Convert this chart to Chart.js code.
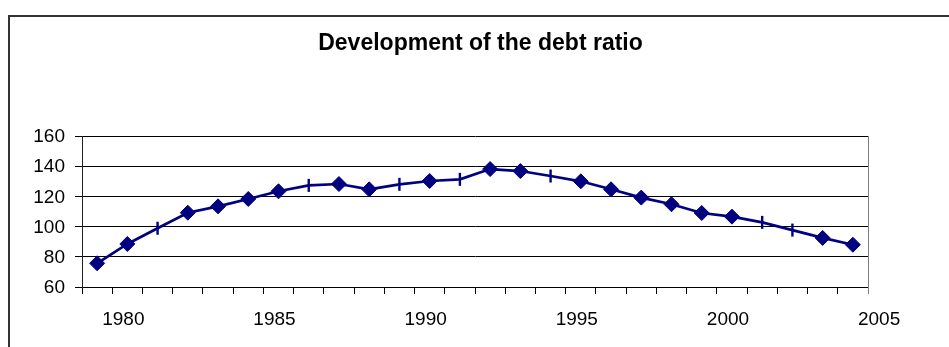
<!DOCTYPE html>
<html>
<head>
<meta charset="utf-8">
<script src="https://cdn.jsdelivr.net/npm/chart.js@4"></script>
<style>
  html, body { margin: 0; padding: 0; background: #fff; }
  #wrap { position: relative; width: 949px; height: 347px; overflow: hidden; }
  #frame { position: absolute; left: 8px; top: 15px; width: 1000px; height: 400px;
           border-left: 2px solid #333; border-top: 2px solid #333; }
  #chart { position: absolute; left: 0; top: 0; }
</style>
</head>
<body>
<div id="wrap">
  <div id="frame"></div>
  <canvas id="chart" width="949" height="347"></canvas>
</div>
<script>
// Debt ratio by year
const years = [1979, 1980, 1981, 1982, 1983, 1984, 1985, 1986, 1987, 1988, 1989, 1990, 1991,
               1992, 1993, 1994, 1995, 1996, 1997, 1998, 1999, 2000, 2001, 2002, 2003, 2004];
const debtRatio = [75.7, 88.5, 98.9, 109.2, 113.4, 118.3, 123.4, 127.3, 128.2, 124.7, 128.0, 130.2, 131.3,
                   138.1, 136.8, 133.5, 130.0, 124.7, 119.2, 114.8, 109.0, 106.6, 102.8, 97.7, 92.5, 88.0];
// Years plotted with a short vertical dash instead of a diamond
const dashMarkerYears = [1981, 1986, 1989, 1991, 1994, 2001, 2002];
// Axis labels
const xTickLabels = [1980, 1985, 1990, 1995, 2000, 2005];
const yTickValues = [60, 80, 100, 120, 140, 160];

const NAVY = '#000080';
const xMin = years[0] - 0.5;
const xMax = years[years.length - 1] + 0.5;

Chart.defaults.font.family = '"Liberation Sans", Arial, sans-serif';
Chart.defaults.color = '#000';

const isDash = yr => dashMarkerYears.includes(yr);

new Chart(document.getElementById('chart'), {
  type: 'line',
  data: {
    datasets: [{
      label: 'Debt ratio',
      data: years.map((yr, i) => ({ x: yr, y: debtRatio[i] })),
      borderColor: NAVY,
      borderWidth: 2.7,
      tension: 0,
      pointStyle: years.map(yr => isDash(yr) ? 'line' : 'rectRot'),
      pointRotation: years.map(yr => isDash(yr) ? 90 : 0),
      pointRadius: years.map(yr => isDash(yr) ? 6.5 : 7.5),
      pointBorderWidth: years.map(yr => isDash(yr) ? 2.4 : 1),
      pointBackgroundColor: NAVY,
      pointBorderColor: NAVY
    }]
  },
  options: {
    responsive: false,
    animation: false,
    events: [],
    layout: { padding: { left: 12, right: 0, top: 0, bottom: 0 } },
    plugins: {
      legend: { display: false },
      tooltip: { enabled: false },
      title: {
        display: true,
        text: 'Development of the debt ratio',
        color: '#000',
        font: { size: 23, weight: 'bold' },
        padding: { top: 30, bottom: 78.4 }
      }
    },
    scales: {
      x: {
        type: 'linear',
        position: 'bottom',
        min: xMin,
        max: xMax,
        afterBuildTicks: scale => {
          const vals = [];
          for (let v = xMin; v <= xMax; v += 1) vals.push(v);
          xTickLabels.forEach(v => vals.push(v));
          vals.sort((a, b) => a - b);
          scale.ticks = vals.map(v => ({ value: v }));
        },
        afterFit: scale => { scale.height = 60; },
        ticks: {
          autoSkip: false,
          maxRotation: 0,
          padding: 14,
          labelOffset: -4,
          font: { size: 19 },
          callback: v => xTickLabels.includes(v) ? String(v) : ''
        },
        grid: {
          display: true,
          drawOnChartArea: false,
          drawTicks: true,
          tickLength: 7,
          tickWidth: 1,
          tickColor: ctx => {
            if (!ctx.tick) return '#000';
            if (xTickLabels.includes(ctx.tick.value)) return 'rgba(0,0,0,0)';
            return ctx.tick.value === xMax ? '#808080' : '#000';
          }
        },
        border: { display: true, color: '#000', width: 1 }
      },
      y: {
        type: 'linear',
        position: 'left',
        min: 60,
        max: 160,
        afterBuildTicks: scale => { scale.ticks = yTickValues.map(v => ({ value: v })); },
        afterFit: scale => { scale.width = 70; },
        ticks: { padding: 10, font: { size: 19 }, labelOffset: 1 },
        grid: { color: '#000', lineWidth: 1, tickLength: 7, tickColor: '#000' },
        border: { display: true, color: '#222', width: 1 }
      },
      yRight: {
        type: 'linear',
        position: 'right',
        min: 60,
        max: 160,
        ticks: { display: false },
        grid: { display: false },
        afterFit: scale => { scale.width = 81; },
        border: { display: true, color: '#808080', width: 1 }
      }
    }
  }
});
</script>
</body>
</html>
